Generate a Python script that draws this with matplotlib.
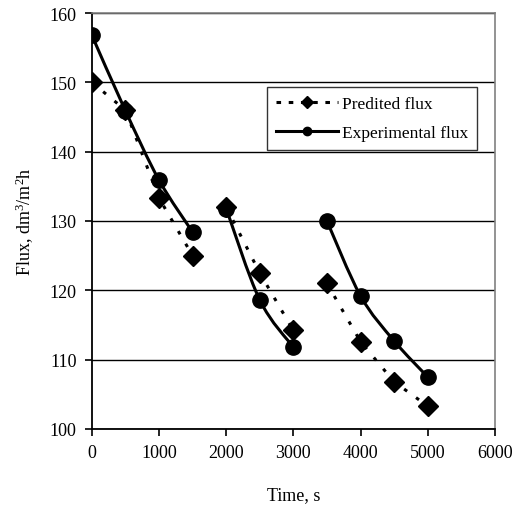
import numpy as np
import matplotlib
matplotlib.use('Agg')
import matplotlib.pyplot as plt
from matplotlib.path import Path
from matplotlib.patches import PathPatch
from matplotlib.lines import Line2D

plt.rcParams['font.family'] = ['Liberation Serif', 'DejaVu Serif']
plt.rcParams['mathtext.default'] = 'regular'

# three runs, each a separate line segment
time_runs = [[0, 500, 1000, 1500], [2000, 2500, 3000], [3500, 4000, 4500, 5000]]
predicted_runs = [[150.0, 146.0, 133.3, 125.0], [132.0, 122.5, 114.2], [121.0, 112.6, 106.8, 103.3]]
experimental_runs = [[156.8, 145.9, 135.9, 128.4], [131.8, 118.6, 111.8], [130.0, 119.2, 112.7, 107.5]]

x_ticks = [0, 1000, 2000, 3000, 4000, 5000, 6000]
y_ticks = [100, 110, 120, 130, 140, 150, 160]


def smooth_path(xs, ys):
    # Excel-like smoothed line: cubic Bezier through the points (Catmull-Rom tangents)
    pts = np.column_stack([xs, ys]).astype(float)
    n = len(pts)
    verts = [pts[0]]
    codes = [Path.MOVETO]
    for i in range(n - 1):
        p0 = pts[i - 1] if i > 0 else pts[i]
        p1 = pts[i]
        p2 = pts[i + 1]
        p3 = pts[i + 2] if i + 2 < n else pts[i + 1]
        c1 = p1 + (p2 - p0) / 6.0
        c2 = p2 - (p3 - p1) / 6.0
        verts += [c1, c2, p2]
        codes += [Path.CURVE4] * 3
    return Path(verts, codes)


fig = plt.figure(figsize=(5.16, 5.10), dpi=100)
ax = fig.add_axes([0.178, 0.157, 0.781, 0.8155])

for t, p in zip(time_runs, predicted_runs):
    ax.plot(t, p, color='black', lw=2.2, dashes=(1.2, 3.6), marker='D',
            markersize=10, markeredgecolor='black', markerfacecolor='black', zorder=3)

for t, e in zip(time_runs, experimental_runs):
    ax.add_patch(PathPatch(smooth_path(t, e), facecolor='none', edgecolor='black',
                           lw=2.2, zorder=4))
    ax.plot(t, e, linestyle='none', marker='o', markersize=11,
            color='black', zorder=5)

ax.set_xlim(0, 6000)
ax.set_ylim(100, 160)
ax.set_xticks(x_ticks)
ax.set_yticks(y_ticks)
ax.yaxis.grid(True, color='black', lw=1.0)
ax.set_axisbelow(True)
for s in ['top', 'right']:
    ax.spines[s].set_color('#808080')
    ax.spines[s].set_linewidth(1.2)
for s in ['left', 'bottom']:
    ax.spines[s].set_linewidth(1.3)
ax.tick_params(axis='both', labelsize=13, direction='out', length=5, width=1.2, pad=6)

ax.set_xlabel('Time, s', fontsize=13, labelpad=18)
ax.set_ylabel(r'Flux, dm$^3$/m$^2$h', fontsize=13, labelpad=10)

handles = [
    Line2D([], [], color='black', lw=2.2, dashes=(1.5, 2.5), marker='D', markersize=6),
    Line2D([], [], color='black', lw=2.2, marker='o', markersize=6),
]
leg = ax.legend(handles, ['Predited flux', 'Experimental flux'], loc='upper right',
                bbox_to_anchor=(0.955, 0.822), borderaxespad=0, fontsize=12.5,
                frameon=True, fancybox=False, edgecolor='black', handlelength=3.6,
                borderpad=0.5, labelspacing=0.75, handletextpad=0.2)
leg.get_frame().set_linewidth(1.0)

fig.savefig('out.png', dpi=100)
